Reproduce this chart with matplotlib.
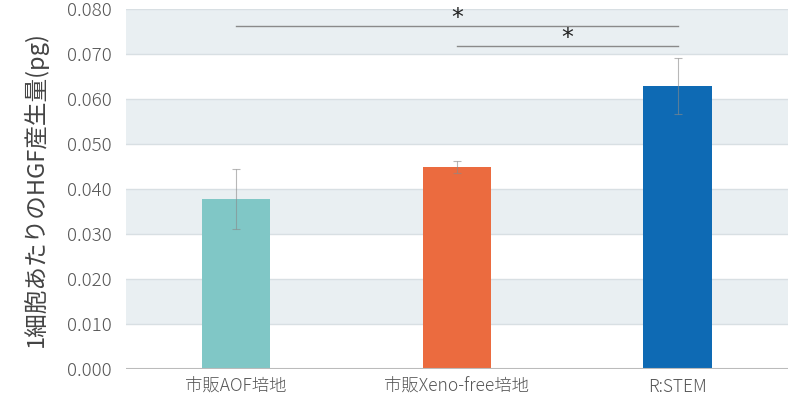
import numpy as np
import matplotlib
matplotlib.use("Agg")
import matplotlib.pyplot as plt

plt.rcParams['font.family'] = ['Noto Sans CJK JP', 'DejaVu Sans']
plt.rcParams['font.weight'] = 'light'

# Données
categories = ["市販AOF培地", "市販Xeno-free培地", "R:STEM"]
valeurs = [0.0378, 0.0449, 0.0629]
erreurs = [0.0067, 0.0013, 0.0062]
couleurs = ["#80C7C6", "#EB6B3F", "#0E6AB4"]
yticks = [0.000, 0.010, 0.020, 0.030, 0.040, 0.050, 0.060, 0.070, 0.080]
# paires significatives (indice début, indice fin, hauteur de la barre)
signif = [(0, 2, 0.0762), (1, 2, 0.0718)]

fig, ax = plt.subplots(figsize=(8.1, 4.0), dpi=100)
fig.subplots_adjust(left=0.155, right=0.973, top=0.977, bottom=0.077)

x = np.arange(len(categories)) + 0.5

# bandes alternées (la bande du haut est grisée)
for i in range(len(yticks) - 1):
    if (len(yticks) - 2 - i) % 2 == 0:
        ax.axhspan(yticks[i], yticks[i + 1], color="#E9EFF2", zorder=0, lw=0)
for t in yticks[1:]:
    ax.axhline(t, color="#D8DFE3", lw=1, zorder=1)

ax.bar(x, valeurs, width=0.31, color=couleurs, zorder=2)
ax.errorbar(x, valeurs, yerr=erreurs, fmt='none', ecolor="#8A8A8A", elinewidth=0.8,
            capsize=3, capthick=0.8, alpha=0.6, zorder=3)

for a, b, h in signif:
    ax.plot([x[a], x[b]], [h, h], color="#8A8A8A", lw=1, zorder=3)
    ax.text((x[a] + x[b]) / 2, h + 0.0018, "*", ha="center", va="center",
            fontsize=17, color="#222222", family="DejaVu Sans", fontweight="normal",
            zorder=4)

ax.axhline(0, color="#BBBBBB", lw=1.5, zorder=4)

ax.set_xlim(0, 3)
ax.set_ylim(0, 0.080)
ax.set_yticks(yticks)
ax.set_yticklabels([f"{t:.3f}" for t in yticks])
ax.set_xticks(x)
ax.set_xticklabels(categories)
ax.tick_params(axis='y', length=0, labelsize=13.5, colors="#555555", pad=10)
ax.tick_params(axis='x', length=0, labelsize=12.5, colors="#555555", pad=6)
ax.set_ylabel("1細胞あたりのHGF産生量(pg)", fontsize=17, color="#444444", labelpad=14)

for s in ax.spines.values():
    s.set_visible(False)

fig.savefig("out.png")
